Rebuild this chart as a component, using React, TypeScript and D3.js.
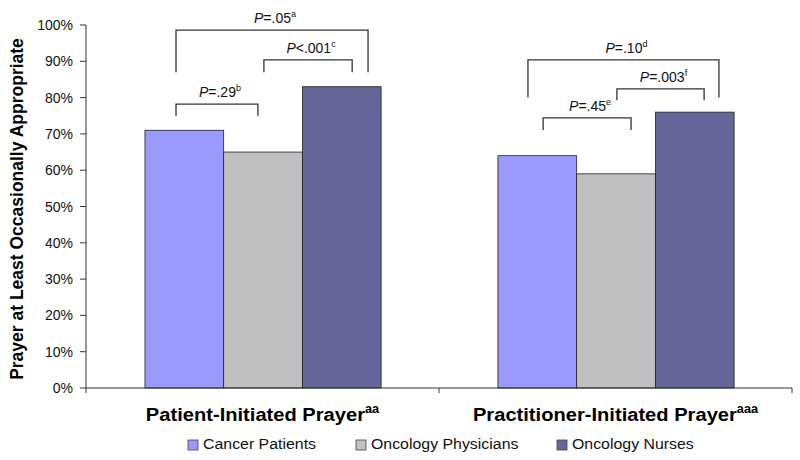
import React from "react";
import * as d3 from "d3";

const categories = ["Patient-Initiated Prayer", "Practitioner-Initiated Prayer"];
const categorySup = ["aa", "aaa"];
const series = ["Cancer Patients", "Oncology Physicians", "Oncology Nurses"];
const colors = ["#9999FF", "#C0C0C0", "#666699"];
const values = [
  [0.71, 0.65, 0.83],
  [0.64, 0.59, 0.76],
];
const yTicks = [0, 0.1, 0.2, 0.3, 0.4, 0.5, 0.6, 0.7, 0.8, 0.9, 1.0];

// brackets: category index, x from/to as fraction of category band, top & bottom (value units), label
const bracketCat = [0, 0, 0, 1, 1, 1];
const bracketX1 = [0.255, 0.504, 0.255, 0.252, 0.504, 0.295];
const bracketX2 = [0.799, 0.754, 0.487, 0.793, 0.751, 0.544];
const bracketTop = [0.986, 0.904, 0.782, 0.904, 0.824, 0.744];
const bracketBottom = [0.87, 0.87, 0.75, 0.80, 0.793, 0.711];
const bracketOp = ["=", "<", "=", "=", "=", "="];
const bracketVal = [".05", ".001", ".29", ".10", ".003", ".45"];
const bracketSup = ["a", "c", "b", "d", "f", "e"];

export default function App() {
  const W = 800, H = 460;
  const left = 86, right = 792, top = 25, bottom = 388;
  const y = d3.scaleLinear().domain([0, 1]).range([bottom, top]);
  const x0 = d3.scaleBand<string>().domain(categories).range([left, right]).padding(0);
  const bw = x0.bandwidth();
  const x1 = d3.scaleBand<string>().domain(series).range([bw * 0.167, bw * 0.836]).padding(0);
  const font = "Arial, 'Liberation Sans', Helvetica, sans-serif";
  const bc = "#333";
  const legendX = [188, 356, 557];

  return (
    <svg width={W} height={H} style={{ position: "absolute", left: 0, top: 0 }} fontFamily={font}>
      <rect x={0} y={0} width={W} height={H} fill="#fff" />
      {/* bars */}
      {categories.map((c, ci) =>
        series.map((s, si) => (
          <rect
            key={c + s}
            x={(x0(c) as number) + (x1(s) as number)}
            y={y(values[ci][si])}
            width={x1.bandwidth()}
            height={bottom - y(values[ci][si])}
            fill={colors[si]}
            stroke="#222"
            strokeWidth={0.8}
          />
        ))
      )}
      {/* y axis */}
      <line x1={left} x2={left} y1={top} y2={bottom} stroke="#333" strokeWidth={1} />
      {yTicks.map((t) => (
        <g key={t}>
          <line x1={left - 6} x2={left} y1={y(t)} y2={y(t)} stroke="#333" />
          <text x={left - 13} y={y(t) + 5} textAnchor="end" fontSize={14} fill="#111">
            {d3.format(".0%")(t)}
          </text>
        </g>
      ))}
      {/* x axis */}
      <line x1={left} x2={right} y1={bottom} y2={bottom} stroke="#333" />
      {[left, ...categories.map((c) => (x0(c) as number) + bw)].map((xv, i) => (
        <line key={i} x1={xv} x2={xv} y1={bottom} y2={bottom + 5} stroke="#333" />
      ))}
      {categories.map((c, ci) => (
        <text
          key={c}
          transform={`translate(${(x0(c) as number) + bw / 2},421) scale(1.06,1)`}
          textAnchor="middle"
          fontSize={19}
          fontWeight="bold"
          fill="#000"
        >
          {c}
          <tspan fontSize={12} dy={-8}>{categorySup[ci]}</tspan>
        </text>
      ))}
      {/* y title */}
      <text transform={`translate(23,${209}) rotate(-90)`} textAnchor="middle" fontSize={17.5} fontWeight="bold" fill="#000">
        Prayer at Least Occasionally Appropriate
      </text>
      {/* brackets */}
      {bracketCat.map((ci, i) => {
        const bx = x0(categories[ci]) as number;
        const xa = bx + bracketX1[i] * bw;
        const xb = bx + bracketX2[i] * bw;
        const yt = y(bracketTop[i]);
        const yb = y(bracketBottom[i]);
        return (
          <g key={i}>
            <path d={`M${xa},${yb}V${yt}H${xb}V${yb}`} fill="none" stroke={bc} strokeWidth={1.3} />
            <text x={(xa + xb) / 2 + 3} y={yt - 7} textAnchor="middle" fontSize={14} fill="#111">
              <tspan fontStyle="italic">P</tspan>
              {bracketOp[i] + bracketVal[i]}
              <tspan fontSize={9} dy={-6}>{bracketSup[i]}</tspan>
            </text>
          </g>
        );
      })}
      {/* legend */}
      {series.map((s, si) => (
        <g key={s}>
          <rect x={legendX[si]} y={440} width={10} height={10} fill={colors[si]} stroke="#444" strokeWidth={0.8} />
          <text transform={`translate(${legendX[si] + 15},448.5) scale(1.06,1)`} fontSize={15} fill="#111">{s}</text>
        </g>
      ))}
    </svg>
  );
}
